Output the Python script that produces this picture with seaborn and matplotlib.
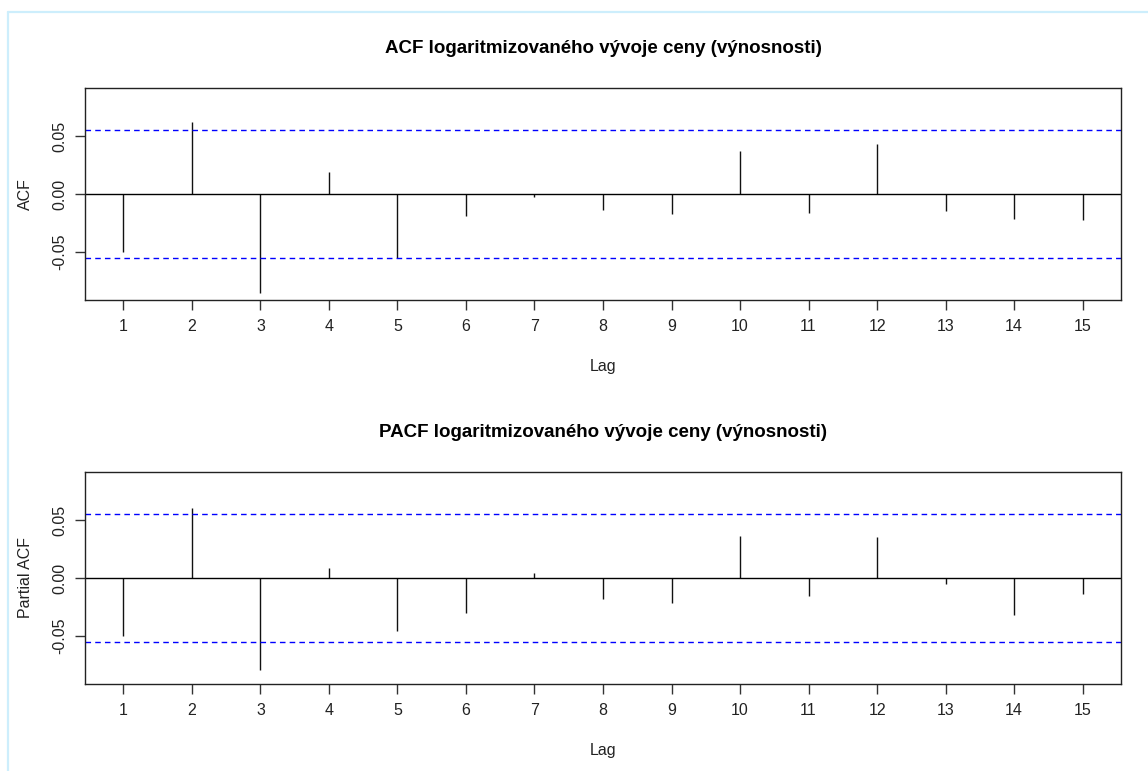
import matplotlib
matplotlib.use("Agg")
import matplotlib.pyplot as plt
from matplotlib.lines import Line2D
import seaborn as sns
import numpy as np

# ---- data ----
lags = [1, 2, 3, 4, 5, 6, 7, 8, 9, 10, 11, 12, 13, 14, 15]
acf_values = [-0.050, 0.0623, -0.0854, 0.0188, -0.055, -0.019, -0.0023, -0.0135,
              -0.0173, 0.0372, -0.0162, 0.0433, -0.0147, -0.0213, -0.0222]
pacf_values = [-0.0502, 0.0609, -0.0794, 0.0087, -0.0456, -0.0306, 0.0043, -0.0179,
               -0.0214, 0.0364, -0.0156, 0.0355, -0.0049, -0.0323, -0.0141]
conf_limit = 0.0554
ytick_values = [-0.05, 0.00, 0.05]
ytick_labels = ["-0.05", "0.00", "0.05"]
titles = ["ACF logaritmizovaného vývoje ceny (výnosnosti)",
          "PACF logaritmizovaného vývoje ceny (výnosnosti)"]
ylabels = ["ACF", "Partial ACF"]
xlabel = "Lag"

sns.set_theme(style="ticks")
plt.rcParams["font.family"] = ["Liberation Sans", "DejaVu Sans"]

W, H = 1148, 771
fig = plt.figure(figsize=(W / 100, H / 100), dpi=100)
fig.patch.set_facecolor("white")

# light blue frame (screenshot border)
fig.add_artist(Line2D([8 / W, 1], [1 - 12 / H, 1 - 12 / H], color="#cdeefc", lw=1.6))
fig.add_artist(Line2D([8 / W, 8 / W], [0, 1 - 12 / H], color="#cdeefc", lw=1.6))

axes_px = [(88, 300), (472, 684)]
left, right = 85 / W, 1121 / W

for i, (vals, (top, bot)) in enumerate(zip([acf_values, pacf_values], axes_px)):
    ax = fig.add_axes([left, 1 - bot / H, right - left, (bot - top) / H])
    ax.set_facecolor("white")
    ax.vlines(lags, 0, vals, color="#111111", lw=1.0)
    ax.axhline(0, color="black", lw=1.0)
    ax.axhline(conf_limit, color="blue", lw=1.0, ls=(0, (4, 3)))
    ax.axhline(-conf_limit, color="blue", lw=1.0, ls=(0, (4, 3)))
    ax.set_xlim(0.44, 15.56)
    ax.set_ylim(-0.0917, 0.0917)
    ax.set_xticks(lags)
    ax.set_xticklabels([str(l) for l in lags])
    ax.set_yticks(ytick_values)
    ax.set_yticklabels(ytick_labels, rotation=90, va="center")
    ax.tick_params(axis="x", direction="out", length=7, width=1.0, color="#333333",
                   labelsize=11.5, labelcolor="#222222", pad=7)
    ax.tick_params(axis="y", direction="out", length=7, width=1.0, color="#333333",
                   labelsize=11.5, labelcolor="#222222", pad=6)
    for s in ax.spines.values():
        s.set_color("#222222")
        s.set_linewidth(1.0)
        s.set_visible(True)
    ax.set_title(titles[i], fontsize=13.5, fontweight="bold", pad=25, color="black")
    ax.set_xlabel(xlabel, fontsize=11.5, labelpad=18, color="#222222")
    ax.set_ylabel(ylabels[i], fontsize=11.5, labelpad=14, color="#222222")

fig.savefig("out.png", dpi=100, facecolor="white")
